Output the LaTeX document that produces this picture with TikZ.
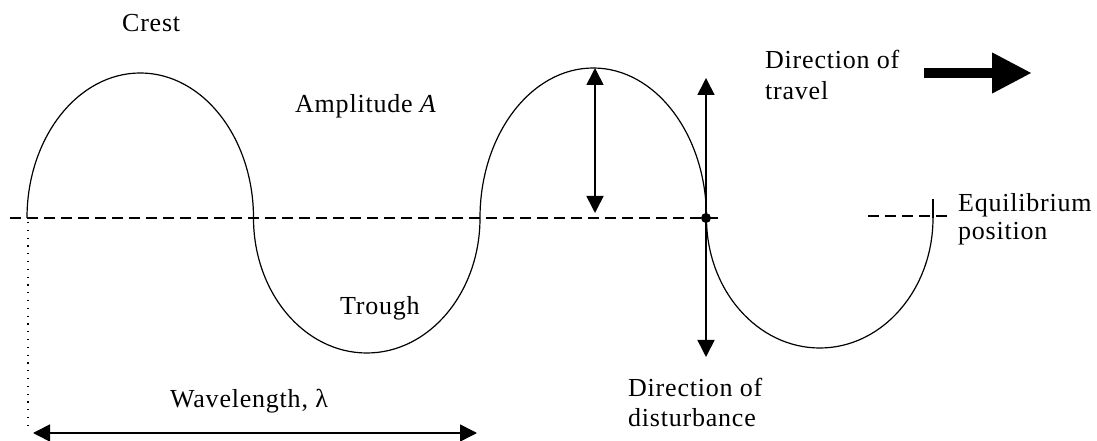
\documentclass[tikz,border=0pt]{standalone}
\usepackage{fontspec}
\setmainfont[LetterSpace=3]{Liberation Serif}
\usetikzlibrary{arrows.meta}
\begin{document}
\begin{tikzpicture}[x=1pt,y=1pt,
  lbl/.style={inner sep=0pt, font=\fontsize{26}{30}\selectfont, text=black},
  wave/.style={line width=1.2pt},
  eqline/.style={line width=1.3pt, dash pattern=on 11pt off 6pt},
  dotline/.style={line width=1.3pt, dash pattern=on 1.3pt off 6.5pt},
  dbl/.style={line width=1.6pt, {Triangle[length=17pt,width=17pt]}-{Triangle[length=17pt,width=17pt]}},
  bigarrow/.style={line width=10pt, -{Triangle[length=40pt,width=38pt]}}]
\useasboundingbox (0,0) rectangle (1097,441);
% equilibrium line
\coordinate (eqL) at (10,223);
\coordinate (eqR) at (722,223);
\draw[eqline] (eqL) -- (eqR);
\coordinate (eq2L) at (868,225);
\coordinate (eq2R) at (947,225);
\draw[eqline] (eq2L) -- (eq2R);
% wave
\coordinate (w0) at (27,223);
\coordinate (wend) at (933,223);
\coordinate (wtick) at (933,242);
\draw[wave] (w0)
  arc[start angle=180, end angle=0, x radius=113.25, y radius=145]
  arc[start angle=180, end angle=360, x radius=113.25, y radius=135]
  arc[start angle=180, end angle=0, x radius=113.25, y radius=150]
  arc[start angle=180, end angle=360, x radius=113.25, y radius=130];
\draw[wave] (wend) -- (wtick);
% dotted line
\coordinate (dotT) at (28,219);
\coordinate (dotB) at (28,12);
\draw[dotline] (dotT) -- (dotB);
% amplitude arrow
\coordinate (ampT) at (595,373);
\coordinate (ampB) at (595,228);
\draw[dbl] (ampB) -- (ampT);
% disturbance arrow
\coordinate (disT) at (706,363);
\coordinate (disB) at (706,84);
\draw[dbl] (disB) -- (disT);
\node[circle, fill=black, inner sep=0pt, minimum size=10pt] (disdot) at (706,223) {};
% travel arrow
\coordinate (trL) at (924,368);
\coordinate (trR) at (1032,368);
\draw[bigarrow] (trL) -- (trR);
% wavelength arrow
\coordinate (wlL) at (33,8);
\coordinate (wlR) at (477,8);
\draw[dbl] (wlL) -- (wlR);
% labels
\node[lbl, anchor=base west] (crest) at (122,409) {Crest};
\node[lbl, anchor=base west] (amp) at (295,328) {Amplitude \textit{A}};
\node[lbl, anchor=base west] (trav1) at (765,372) {Direction of};
\node[lbl, anchor=base west] (trav2) at (765,341) {travel};
\node[lbl, anchor=base west] (eq1) at (958,229) {Equilibrium};
\node[lbl, anchor=base west] (eq2) at (958,201) {position};
\node[lbl, anchor=base west] (trough) at (340,126) {Trough};
\node[lbl, anchor=base west] (wl) at (170,33) {Wavelength, λ};
\node[lbl, anchor=base west] (dis1) at (628,44) {Direction of};
\node[lbl, anchor=base west] (dis2) at (628,14) {disturbance};
\end{tikzpicture}
\end{document}
